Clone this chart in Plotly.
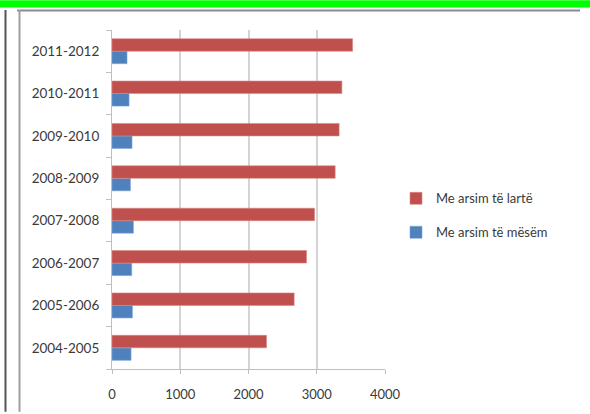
import plotly.graph_objects as go

# ---- data ----
categories = ["2004-2005", "2005-2006", "2006-2007", "2007-2008",
              "2008-2009", "2009-2010", "2010-2011", "2011-2012"]
higher_edu = [2264, 2669, 2850, 2968, 3270, 3328, 3368, 3525]
secondary_edu = [279, 299, 289, 314, 270, 293, 250, 220]
x_ticks = [0, 1000, 2000, 3000, 4000]
series_names = ["Me arsim të lartë", "Me arsim të mësëm"]

W, H = 590, 414
L, R, T, B = 112, 205, 30, 43
PW, PH = W - L - R, H - T - B


def px(x):
    return (x - L) / PW


def py(y):
    return (H - B - y) / PH


FONT = "Lato, 'Open Sans', sans-serif"
TXT = "#3a3a3a"

fig = go.Figure()
fig.add_trace(go.Bar(
    y=categories, x=secondary_edu, orientation="h", name=series_names[1],
    marker=dict(color="#4F81BD", line=dict(color="#7da3d6", width=0.6)),
    legendgroup="b", legendrank=2,
))
fig.add_trace(go.Bar(
    y=categories, x=higher_edu, orientation="h", name=series_names[0],
    marker=dict(color="#C0504D", line=dict(color="#d98683", width=0.6)),
    legendgroup="a", legendrank=1,
))

shapes = [
    # green strip at top
    dict(type="rect", xref="paper", yref="paper", x0=px(0), x1=px(W), y0=py(0), y1=py(7.3),
         fillcolor="#00FF00", line=dict(width=0), layer="above"),
    # frame top line
    dict(type="line", xref="paper", yref="paper", x0=px(17), x1=px(580), y0=py(10.3), y1=py(10.3),
         line=dict(color="#8c8c8c", width=2)),
    # frame left line
    dict(type="line", xref="paper", yref="paper", x0=px(19.5), x1=px(19.5), y0=py(10), y1=py(H),
         line=dict(color="#a0a0a0", width=2)),
    # outer dark left line
    dict(type="line", xref="paper", yref="paper", x0=px(5.5), x1=px(5.5), y0=py(10), y1=py(H),
         line=dict(color="#555555", width=2)),
]

fig.update_layout(
    width=W, height=H,
    margin=dict(l=L, r=R, t=T, b=B, pad=0),
    paper_bgcolor="white", plot_bgcolor="white",
    barmode="group", bargap=0.41, bargroupgap=0,
    font=dict(family=FONT, size=13, color=TXT),
    showlegend=True,
    legend=dict(
        x=px(396), xanchor="left", y=py(216.5), yanchor="middle",
        traceorder="grouped", tracegroupgap=14,
        font=dict(family=FONT, size=13, color=TXT),
        bgcolor="rgba(0,0,0,0)", borderwidth=0,
    ),
    shapes=shapes,
    xaxis=dict(
        range=[0, 4000], tickvals=x_ticks, ticktext=[str(v) for v in x_ticks],
        showgrid=True, gridcolor="#d4d4d4", gridwidth=1.5,
        zeroline=False, showline=True, linecolor="#bfbfbf", linewidth=1,
        ticks="outside", ticklen=4, tickcolor="#bfbfbf",
        ticklabelstandoff=9,
        tickfont=dict(family=FONT, size=13, color=TXT),
        fixedrange=True,
    ),
    yaxis=dict(
        type="category", categoryorder="array", categoryarray=categories,
        showgrid=False, zeroline=False, showline=True, linecolor="#bfbfbf", linewidth=1,
        ticks="outside", ticklen=5, tickcolor="#bfbfbf", tickson="boundaries",
        ticklabelstandoff=9,
        tickfont=dict(family=FONT, size=13.5, color=TXT),
        fixedrange=True,
    ),
)

fig.write_html("out.html", config={"displayModeBar": False},
               post_script="document.body.style.margin='0';")
